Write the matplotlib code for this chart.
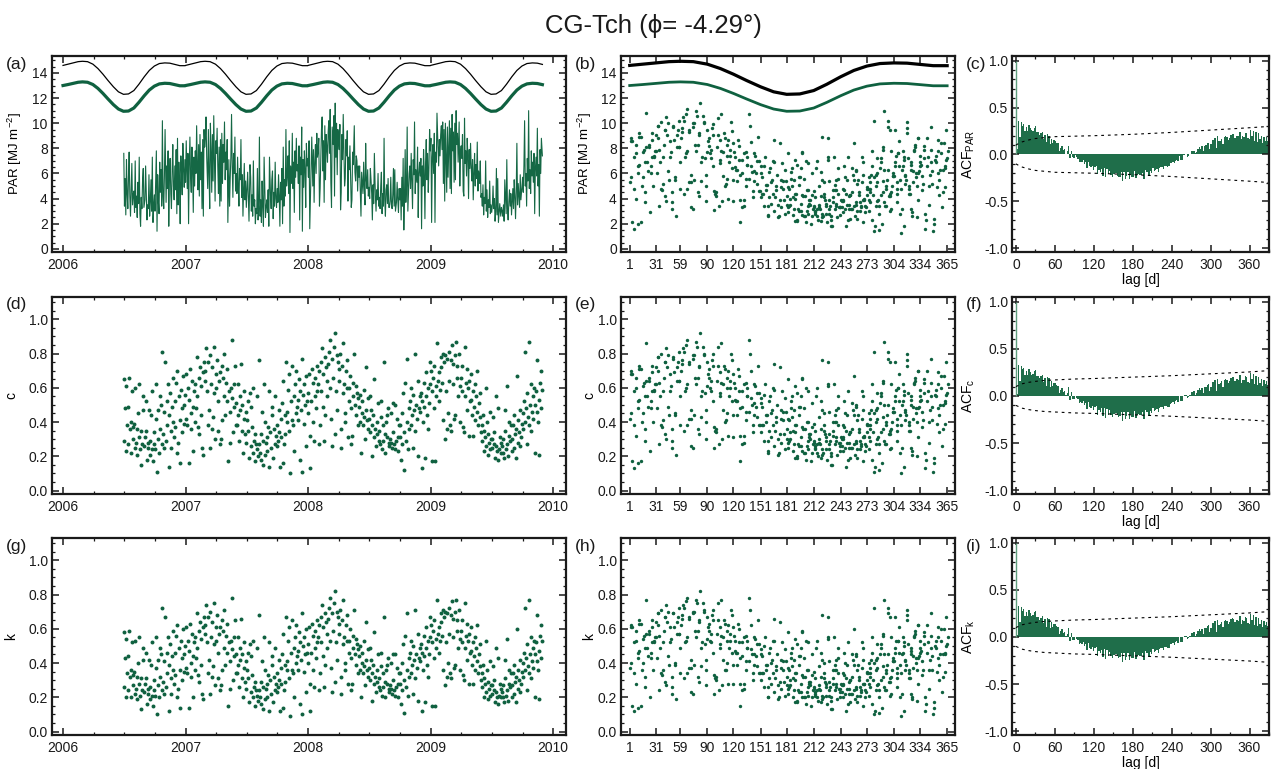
import numpy as np
import pandas as pd
import matplotlib
matplotlib.use('Agg')
import matplotlib.pyplot as plt
from matplotlib.ticker import MultipleLocator, FixedLocator, FormatStrFormatter

plt.rcParams['font.family'] = ['Liberation Sans', 'DejaVu Sans']
plt.rcParams['mathtext.default'] = 'regular'
plt.rcParams['axes.unicode_minus'] = False

# ---------------- data ----------------
start_date, end_date = '2006-07-01', '2009-11-30'

# c [%], one row per month (Jul 2006 ... Nov 2009)
c_vals = [
    65, 29, 48, 23, 61, 38, 27, 49, 66, 36, 22, 40, 58, 30, 37,
    39, 25, 60, 28, 36, 21, 45, 31, 62, 24, 15, 35, 27, 47, 55,
    26, 31, 52, 35, 18, 28, 25, 47, 21, 29, 44, 24, 58, 17, 27,
    34, 24, 42, 62, 11, 47, 30, 22, 55, 36, 50, 27, 81, 33, 25,
    46, 75, 29, 52, 38, 62, 14, 44, 57, 35, 25, 49, 66, 40, 31,
    52, 37, 63, 22, 70, 28, 55, 41, 16, 59, 48, 34, 67, 50, 39,
    56, 42, 68, 38, 60, 16, 53, 71, 45, 36, 64, 49, 23, 58, 40,
    62, 48, 78, 55, 37, 66, 33, 72, 44, 61, 25, 69, 21, 75, 64,
    70, 83, 58, 38, 75, 47, 25, 79, 62, 36, 72, 43, 84, 57, 30,
    68, 60, 76, 52, 35, 64, 27, 69, 30, 73, 41, 66, 55, 80, 44,
    63, 52, 71, 17, 58, 28, 46, 60, 88, 54, 34, 62, 49, 73, 38,
    51, 38, 62, 44, 29, 55, 47, 74, 35, 50, 22, 42, 58, 33, 46,
    28, 41, 52, 35, 19, 57, 49, 26, 37, 22, 60, 29, 33, 17, 27,
    24, 55, 20, 27, 76, 22, 33, 18, 46, 29, 15, 62, 40, 21, 28,
    31, 23, 37, 14, 58, 34, 25, 44, 49, 19, 36, 27, 55, 32, 26,
    38, 29, 47, 34, 14, 42, 31, 51, 16, 64, 27, 44, 33, 75, 40,
    46, 59, 35, 68, 10, 52, 41, 73, 38, 55, 23, 62, 45, 70, 49,
    53, 41, 65, 18, 58, 47, 77, 11, 56, 39, 62, 50, 26, 67, 52,
    57, 45, 68, 13, 32, 52, 71, 40, 63, 29, 55, 66, 48, 73, 58,
    62, 70, 27, 38, 58, 75, 83, 49, 68, 29, 78, 44, 72, 64, 55,
    74, 81, 60, 88, 42, 26, 77, 66, 84, 33, 92, 58, 79, 47, 75,
    71, 64, 80, 25, 36, 73, 57, 86, 62, 40, 45, 70, 60, 76, 31,
    60, 52, 67, 48, 27, 32, 63, 55, 80, 50, 44, 61, 57, 38, 54,
    49, 56, 40, 22, 52, 45, 38, 59, 43, 30, 72, 47, 41, 54, 36,
    42, 34, 55, 47, 38, 20, 44, 31, 65, 36, 26, 40, 33, 51, 29,
    35, 27, 43, 52, 24, 38, 29, 75, 33, 22, 40, 44, 31, 48, 28,
    26, 30, 45, 28, 25, 34, 51, 27, 50, 24, 29, 42, 31, 23, 38,
    31, 38, 18, 45, 27, 57, 12, 34, 63, 29, 40, 77, 24, 36, 48,
    52, 38, 60, 44, 25, 56, 47, 80, 35, 50, 42, 64, 20, 48, 55,
    46, 57, 13, 52, 40, 63, 49, 19, 55, 69, 44, 60, 36, 51, 75,
    62, 70, 17, 58, 66, 48, 73, 17, 61, 55, 86, 64, 52, 69, 59,
    72, 78, 63, 80, 41, 75, 30, 79, 58, 36, 77, 45, 64, 81, 38,
    76, 35, 85, 62, 74, 42, 79, 44, 87, 66, 73, 55, 80, 40, 61,
    66, 58, 73, 37, 34, 84, 55, 63, 47, 71, 60, 32, 64, 52, 68,
    53, 44, 58, 32, 49, 62, 41, 55, 46, 70, 38, 51, 43, 57, 34,
    38, 29, 44, 23, 35, 31, 60, 26, 40, 21, 33, 28, 46, 24, 30,
    25, 30, 43, 27, 34, 19, 26, 55, 23, 48, 18, 24, 31, 22, 28,
    26, 22, 30, 19, 47, 35, 24, 61, 27, 20, 32, 40, 29, 38, 23,
    30, 38, 25, 44, 33, 19, 36, 67, 28, 41, 34, 26, 47, 31, 39,
    45, 36, 52, 81, 40, 48, 27, 57, 43, 87, 38, 50, 35, 62, 46,
    55, 42, 60, 22, 50, 58, 46, 76, 40, 53, 21, 63, 48, 70, 59,
]

# k [%]
k_vals = [
    58, 26, 43, 20, 54, 34, 24, 44, 59, 32, 20, 36, 52, 27, 33,
    35, 22, 53, 25, 32, 19, 40, 28, 55, 21, 13, 31, 24, 42, 49,
    23, 28, 46, 31, 16, 25, 22, 42, 19, 26, 39, 21, 52, 15, 24,
    30, 21, 37, 55, 10, 42, 27, 20, 49, 32, 45, 24, 72, 29, 22,
    41, 67, 26, 46, 34, 55, 12, 39, 51, 31, 22, 44, 59, 36, 28,
    46, 33, 56, 20, 62, 25, 49, 36, 14, 53, 43, 30, 60, 45, 35,
    50, 37, 61, 34, 53, 14, 47, 63, 40, 32, 57, 44, 20, 52, 36,
    55, 43, 69, 49, 33, 59, 29, 64, 39, 54, 22, 61, 19, 67, 57,
    62, 74, 52, 34, 67, 42, 22, 70, 55, 32, 64, 38, 75, 51, 27,
    61, 53, 68, 46, 31, 57, 24, 61, 27, 65, 36, 59, 49, 71, 39,
    56, 46, 63, 15, 52, 25, 41, 53, 78, 48, 30, 55, 44, 65, 34,
    45, 34, 55, 39, 26, 49, 42, 66, 31, 45, 20, 37, 52, 29, 41,
    25, 36, 46, 31, 17, 51, 44, 23, 33, 20, 53, 26, 29, 15, 24,
    21, 49, 18, 24, 68, 20, 29, 16, 41, 26, 13, 55, 36, 19, 25,
    28, 20, 33, 12, 52, 30, 22, 39, 44, 17, 32, 24, 49, 28, 23,
    34, 26, 42, 30, 12, 37, 28, 45, 14, 57, 24, 39, 29, 67, 36,
    41, 53, 31, 61, 9, 46, 36, 65, 34, 49, 20, 55, 40, 62, 44,
    47, 36, 58, 16, 52, 42, 69, 10, 50, 35, 55, 45, 23, 60, 46,
    51, 40, 61, 12, 28, 46, 63, 36, 56, 26, 49, 59, 43, 65, 52,
    55, 62, 24, 34, 52, 67, 74, 44, 61, 26, 69, 39, 64, 57, 49,
    66, 72, 53, 78, 37, 23, 69, 59, 75, 29, 82, 52, 70, 42, 67,
    63, 57, 71, 22, 32, 65, 51, 77, 55, 36, 40, 62, 53, 68, 28,
    53, 46, 60, 43, 24, 28, 56, 49, 71, 45, 39, 54, 51, 34, 48,
    44, 50, 36, 20, 46, 40, 34, 53, 38, 27, 64, 42, 36, 48, 32,
    37, 30, 49, 42, 34, 18, 39, 28, 58, 32, 23, 36, 29, 45, 26,
    31, 24, 38, 46, 21, 34, 26, 67, 29, 20, 36, 39, 28, 43, 25,
    23, 27, 40, 25, 22, 30, 45, 24, 45, 21, 26, 37, 28, 20, 34,
    28, 34, 16, 40, 24, 51, 11, 30, 56, 26, 36, 69, 21, 32, 43,
    46, 34, 53, 39, 22, 50, 42, 71, 31, 45, 37, 57, 18, 43, 49,
    41, 51, 12, 46, 36, 56, 44, 17, 49, 61, 39, 53, 32, 45, 67,
    55, 62, 15, 52, 59, 43, 65, 15, 54, 49, 77, 57, 46, 61, 53,
    64, 69, 56, 71, 36, 67, 27, 70, 52, 32, 69, 40, 57, 72, 34,
    68, 31, 76, 55, 66, 37, 70, 39, 77, 59, 65, 49, 71, 36, 54,
    59, 52, 65, 33, 30, 75, 49, 56, 42, 63, 53, 28, 57, 46, 61,
    47, 39, 52, 28, 44, 55, 36, 49, 41, 62, 34, 45, 38, 51, 30,
    34, 26, 39, 20, 31, 28, 53, 23, 36, 19, 29, 25, 41, 21, 27,
    22, 27, 38, 24, 30, 17, 23, 49, 20, 43, 16, 21, 28, 20, 25,
    23, 20, 27, 17, 42, 31, 21, 54, 24, 18, 28, 36, 26, 34, 20,
    27, 34, 22, 39, 29, 17, 32, 60, 25, 36, 30, 23, 42, 28, 35,
    40, 32, 46, 72, 36, 43, 24, 51, 38, 77, 34, 45, 31, 55, 41,
    49, 37, 53, 20, 45, 52, 41, 68, 36, 47, 19, 56, 43, 62, 53,
]

# daily PAR [0.1 MJ m-2]
par_vals = [
    76, 34, 56, 27, 71, 44, 32, 57, 77, 42, 26, 47, 68, 35, 43,
    46, 29, 70, 33, 42, 25, 53, 36, 73, 28, 18, 41, 32, 55, 64,
    33, 39, 66, 44, 23, 35, 32, 59, 26, 37, 55, 30, 73, 21, 34,
    43, 30, 53, 78, 14, 59, 38, 28, 69, 45, 63, 34, 102, 42, 32,
    58, 95, 37, 66, 48, 78, 18, 55, 72, 44, 32, 62, 83, 50, 39,
    66, 47, 79, 28, 88, 35, 69, 52, 20, 74, 60, 43, 84, 63, 49,
    71, 53, 86, 48, 76, 20, 67, 89, 57, 45, 81, 62, 29, 73, 50,
    78, 60, 98, 69, 47, 83, 42, 91, 55, 77, 32, 87, 26, 95, 81,
    88, 105, 73, 48, 95, 59, 32, 100, 78, 45, 91, 54, 106, 72, 38,
    86, 76, 96, 66, 44, 81, 34, 87, 38, 92, 52, 83, 69, 101, 55,
    77, 63, 87, 21, 71, 34, 56, 73, 107, 66, 41, 76, 60, 89, 46,
    60, 44, 73, 51, 34, 64, 55, 87, 41, 59, 26, 49, 68, 39, 54,
    33, 48, 61, 41, 22, 67, 57, 30, 43, 26, 70, 34, 39, 20, 32,
    28, 64, 23, 32, 89, 26, 39, 21, 54, 34, 18, 73, 47, 25, 33,
    39, 29, 47, 18, 73, 43, 32, 55, 62, 24, 45, 34, 69, 40, 33,
    48, 37, 59, 43, 18, 53, 39, 64, 20, 81, 34, 55, 42, 95, 50,
    58, 74, 44, 86, 13, 66, 52, 92, 48, 69, 29, 78, 57, 88, 62,
    67, 52, 82, 23, 73, 59, 97, 14, 71, 49, 78, 63, 33, 84, 66,
    72, 57, 86, 16, 40, 66, 89, 50, 79, 37, 69, 83, 60, 92, 73,
    78, 88, 34, 48, 73, 95, 105, 62, 86, 37, 98, 55, 91, 81, 69,
    93, 102, 76, 111, 53, 33, 97, 83, 106, 42, 116, 73, 100, 59, 95,
    88, 79, 99, 31, 45, 91, 71, 107, 77, 50, 56, 87, 74, 94, 38,
    73, 63, 82, 59, 33, 39, 77, 67, 98, 61, 54, 74, 70, 46, 66,
    57, 66, 47, 26, 61, 53, 44, 69, 50, 35, 84, 55, 48, 63, 42,
    49, 40, 64, 55, 44, 23, 51, 36, 76, 42, 30, 47, 39, 60, 34,
    41, 32, 50, 61, 28, 44, 34, 88, 39, 26, 47, 51, 36, 56, 33,
    33, 38, 57, 35, 32, 43, 64, 34, 63, 30, 37, 53, 39, 29, 48,
    39, 48, 23, 57, 34, 72, 15, 43, 79, 37, 50, 97, 30, 45, 60,
    66, 48, 76, 55, 32, 71, 59, 101, 44, 63, 53, 81, 25, 60, 69,
    58, 72, 16, 66, 50, 79, 62, 24, 69, 87, 55, 76, 45, 64, 95,
    78, 88, 21, 73, 83, 60, 92, 21, 77, 69, 108, 81, 66, 87, 74,
    91, 98, 79, 101, 52, 95, 38, 100, 73, 45, 97, 57, 81, 102, 48,
    96, 44, 107, 78, 93, 53, 100, 55, 110, 83, 92, 69, 101, 50, 77,
    82, 72, 91, 46, 42, 104, 68, 78, 58, 88, 74, 40, 79, 64, 84,
    65, 54, 71, 39, 60, 76, 50, 67, 56, 85, 46, 62, 52, 70, 41,
    44, 34, 51, 27, 41, 36, 70, 30, 47, 25, 39, 33, 54, 28, 35,
    29, 35, 50, 32, 40, 22, 30, 64, 27, 56, 21, 28, 36, 26, 33,
    30, 26, 35, 22, 55, 41, 28, 71, 32, 23, 37, 47, 34, 44, 27,
    38, 48, 32, 55, 42, 24, 45, 84, 35, 52, 43, 33, 59, 39, 49,
    57, 45, 66, 102, 50, 60, 34, 72, 54, 110, 48, 63, 44, 78, 58,
    69, 53, 76, 28, 63, 73, 58, 96, 50, 67, 26, 79, 60, 88, 74,
]

# seasonal reference curves (day of year)
doy_nodes = [1, 16, 31, 46, 59, 74, 90, 105, 120, 135, 151, 166, 181,
             196, 212, 227, 243, 258, 273, 288, 304, 319, 334, 349, 365]
par_top = [14.60, 14.70, 14.80, 14.90, 14.93, 14.90, 14.70, 14.35, 13.90,
           13.40, 12.90, 12.50, 12.30, 12.33, 12.60, 13.10, 13.70, 14.20,
           14.55, 14.75, 14.80, 14.78, 14.68, 14.58, 14.58]
par_clear = [13.00, 13.08, 13.17, 13.26, 13.29, 13.26, 13.08, 12.77, 12.37,
             11.93, 11.48, 11.13, 10.95, 10.97, 11.21, 11.66, 12.19, 12.64,
             12.95, 13.13, 13.18, 13.16, 13.07, 12.98, 12.98]
years = [2006, 2007, 2008, 2009]
curve_end = 2009.92

# ACF confidence bands
bound_lags = [0, 5, 10, 20, 30, 45, 60, 90, 120, 180, 240, 300, 360, 392]
bound_par = [0.10, 0.12, 0.135, 0.155, 0.17, 0.18, 0.19, 0.195, 0.20,
             0.215, 0.235, 0.26, 0.285, 0.30]
bound_ck = [0.10, 0.115, 0.13, 0.145, 0.155, 0.165, 0.17, 0.18, 0.185,
            0.20, 0.215, 0.235, 0.255, 0.27]
max_lag = 390

doy_ticks = [1, 31, 59, 90, 120, 151, 181, 212, 243, 273, 304, 334, 365]

# ---------------- derived ----------------
c = np.array(c_vals) / 100.0
k = np.array(k_vals) / 100.0
par = np.array(par_vals) / 10.0
dates = pd.date_range(start_date, end_date, periods=len(c))
doy = dates.dayofyear.values
ylen = np.where(dates.is_leap_year, 366, 365)
tdec = dates.year.values + (doy - 1) / ylen
step = (dates[1] - dates[0]).total_seconds() / 86400.0

curve_t = np.concatenate([y + (np.array(doy_nodes) - 1) / 365.0 for y in years])
curve_top = np.tile(par_top, len(years))
curve_clr = np.tile(par_clear, len(years))
keep = curve_t <= curve_end


def acf(x, nlag):
    x = x - x.mean()
    d = np.sum(x * x)
    return np.array([1.0] + [np.sum(x[:-i] * x[i:]) / d for i in range(1, nlag + 1)])


GREEN = '#0f6140'
ACFG = '#1f6e4a'
AXC = '#1a1a1a'
W, H = 1271, 769
cols = [(52, 566), (621, 955), (1012, 1269)]
rows = [(56, 252), (297, 494), (538, 735)]

fig = plt.figure(figsize=(W / 100, H / 100), dpi=100)


def make_ax(r, ci, label):
    l, rr = cols[ci]
    t, b = rows[r]
    ax = fig.add_axes([l / W, 1 - b / H, (rr - l) / W, (b - t) / H])
    for s in ax.spines.values():
        s.set_linewidth(1.6)
        s.set_color(AXC)
    ax.tick_params(which='both', direction='in', top=True, right=True,
                   colors=AXC, labelsize=10)
    ax.tick_params(axis='y', which='both', pad=3)
    ax.tick_params(axis='x', which='both', pad=4)
    ax.tick_params(which='major', length=5, width=1.1)
    ax.tick_params(which='minor', length=2.5, width=0.9)
    fig.text((l - 46) / W, 1 - (t + 8) / H, label, fontsize=12.5,
             va='center', ha='left', color=AXC)
    return ax


def time_axis(ax):
    ax.set_xlim(2005.91, 2010.105)
    ax.xaxis.set_major_locator(FixedLocator([2006, 2007, 2008, 2009, 2010]))
    ax.xaxis.set_minor_locator(MultipleLocator(0.25))
    ax.set_xticklabels(['2006', '2007', '2008', '2009', '2010'])


def doy_axis(ax):
    ax.set_xlim(-9, 374)
    ax.xaxis.set_major_locator(FixedLocator(doy_ticks))
    ax.set_xticklabels([str(d) for d in doy_ticks])


def frac_axis(ax, name, xpos):
    ax.set_ylim(-0.02, 1.13)
    ax.yaxis.set_major_locator(MultipleLocator(0.2))
    ax.yaxis.set_minor_locator(MultipleLocator(0.05))
    ax.yaxis.set_major_formatter(FormatStrFormatter('%.1f'))
    ax.set_ylabel(name, fontsize=10)
    ax.yaxis.set_label_coords(xpos, 0.5)


def par_axis(ax, xpos):
    ax.set_ylim(-0.25, 15.35)
    ax.yaxis.set_major_locator(MultipleLocator(2))
    ax.yaxis.set_minor_locator(MultipleLocator(0.5))
    ax.set_ylabel('PAR [MJ m$^{-2}$]', fontsize=9.5)
    ax.yaxis.set_label_coords(xpos, 0.5)


def acf_panel(ax, series, bounds, name):
    nl = int(max_lag / step)
    r = acf(series, nl)
    lags = np.arange(nl + 1) * step
    ax.bar(lags[1:], r[1:], width=step, color=ACFG, linewidth=0)
    ax.vlines(0, 0, r[0], color='#5f9e7e', lw=1.0)
    ax.plot(bound_lags, bounds, ls=(0, (2.5, 3.5)), color='k', lw=0.8)
    ax.plot(bound_lags, [-v for v in bounds], ls=(0, (2.5, 3.5)), color='k', lw=0.8)
    ax.set_xlim(-6, 390)
    ax.set_ylim(-1.04, 1.05)
    ax.xaxis.set_major_locator(MultipleLocator(60))
    ax.xaxis.set_minor_locator(MultipleLocator(30))
    ax.yaxis.set_major_locator(MultipleLocator(0.5))
    ax.yaxis.set_minor_locator(MultipleLocator(0.1))
    ax.yaxis.set_major_formatter(FormatStrFormatter('%.1f'))
    ax.set_xlabel('lag [d]', fontsize=10, labelpad=1)
    ax.set_ylabel(name, fontsize=10)
    ax.yaxis.set_label_coords(-0.135, 0.5)


# (a)
ax = make_ax(0, 0, '(a)')
ax.plot(curve_t[keep], curve_top[keep], color='k', lw=0.9)
ax.plot(curve_t[keep], curve_clr[keep], color=GREEN, lw=2.3)
ax.plot(tdec, par, color='#156845', lw=0.8)
time_axis(ax)
par_axis(ax, -0.054)

# (b)
ax = make_ax(0, 1, '(b)')
ax.plot(doy_nodes, par_top, color='k', lw=2.3)
ax.plot(doy_nodes, par_clear, color=GREEN, lw=2.0)
ax.scatter(doy, par, s=6, color=GREEN, linewidths=0)
doy_axis(ax)
par_axis(ax, -0.08)

# (c)
ax = make_ax(0, 2, '(c)')
acf_panel(ax, par, bound_par, 'ACF$_{PAR}$')

# (d)
ax = make_ax(1, 0, '(d)')
ax.scatter(tdec, c, s=8, color=GREEN, linewidths=0)
time_axis(ax)
frac_axis(ax, 'c', -0.066)

# (e)
ax = make_ax(1, 1, '(e)')
ax.scatter(doy, c, s=6, color=GREEN, linewidths=0)
doy_axis(ax)
frac_axis(ax, 'c', -0.074)

# (f)
ax = make_ax(1, 2, '(f)')
acf_panel(ax, c, bound_ck, 'ACF$_{c}$')

# (g)
ax = make_ax(2, 0, '(g)')
ax.scatter(tdec, k, s=8, color=GREEN, linewidths=0)
time_axis(ax)
frac_axis(ax, 'k', -0.066)

# (h)
ax = make_ax(2, 1, '(h)')
ax.scatter(doy, k, s=6, color=GREEN, linewidths=0)
doy_axis(ax)
frac_axis(ax, 'k', -0.074)

# (i)
ax = make_ax(2, 2, '(i)')
acf_panel(ax, k, bound_ck, 'ACF$_{k}$')

fig.text(0.514, 1 - 26 / H, 'CG-Tch (ϕ= -4.29°)', ha='center', va='center',
         fontsize=18.5, color=AXC)

fig.savefig('out.png', dpi=100)
